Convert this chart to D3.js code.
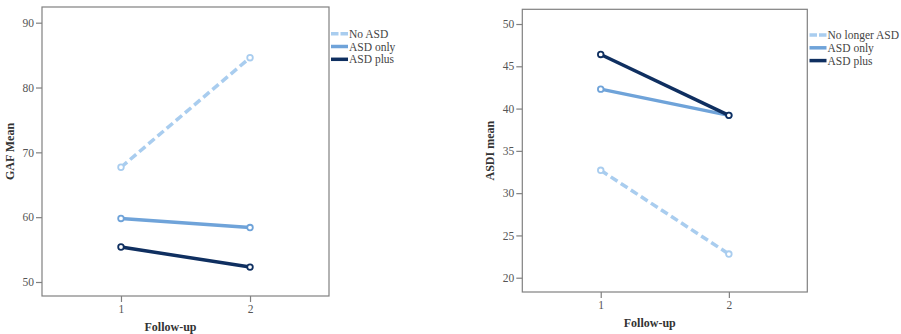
<!DOCTYPE html>
<html>
<head>
<meta charset="utf-8">
<script src="https://cdn.jsdelivr.net/npm/d3@7"></script>
<style>
  html, body { margin: 0; padding: 0; background: #fff; }
  svg { display: block; }
</style>
</head>
<body>
<svg id="chart" width="901" height="334" font-family="'Liberation Serif', 'Times New Roman', Times, serif"></svg>
<script>
// Follow-up time points
const followUps = [1, 2];

// Left panel: GAF mean by group
const gafTicks = [50, 60, 70, 80, 90];
const gafNoASD = [67.7, 84.6];
const gafASDOnly = [59.8, 58.4];
const gafASDPlus = [55.4, 52.3];
const gafLabels = ["No ASD", "ASD only", "ASD plus"];

// Right panel: ASDI mean by group
const asdiTicks = [20, 25, 30, 35, 40, 45, 50];
const asdiNoLonger = [32.7, 22.8];
const asdiASDOnly = [42.3, 39.2];
const asdiASDPlus = [46.4, 39.2];
const asdiLabels = ["No longer ASD", "ASD only", "ASD plus"];

const colors = ["#a9cdef", "#6fa3d9", "#0f2f60"];
const dashes = ["8,4", null, null];
const FONT = "'Liberation Serif', 'Times New Roman', Times, serif";

const svg = d3.select("#chart");

function panel(cfg) {
  const g = svg.append("g").attr("font-family", FONT);
  const x = d3.scaleLinear()
    .domain([1 - 0.612, 2 + 0.612])
    .range([cfg.left, cfg.right]);
  const y = d3.scaleLinear()
    .domain(cfg.yDomain)
    .range([cfg.bottom, cfg.top]);

  // plot frame
  g.append("rect")
    .attr("x", cfg.left).attr("y", cfg.top)
    .attr("width", cfg.right - cfg.left)
    .attr("height", cfg.bottom - cfg.top)
    .attr("fill", "none")
    .attr("stroke", "#808080")
    .attr("stroke-width", 1.2);

  // y axis
  const ya = g.append("g")
    .attr("transform", `translate(${cfg.left},0)`)
    .call(d3.axisLeft(y).tickValues(cfg.ticks).tickSize(6).tickPadding(2));
  ya.attr("font-family", FONT).attr("font-size", 11.5);
  ya.select(".domain").remove();
  ya.selectAll("line").attr("stroke", "#808080").attr("stroke-width", 1.2);
  ya.selectAll("text").attr("fill", "#555");

  // x axis
  const xa = g.append("g")
    .attr("transform", `translate(0,${cfg.bottom})`)
    .call(d3.axisBottom(x).tickValues(followUps).tickFormat(d3.format("d")).tickSize(6).tickPadding(3));
  xa.attr("font-family", FONT).attr("font-size", 11.5);
  xa.select(".domain").remove();
  xa.selectAll("line").attr("stroke", "#808080").attr("stroke-width", 1.2);
  xa.selectAll("text").attr("fill", "#555");

  // axis titles
  g.append("text")
    .attr("x", (cfg.left + cfg.right) / 2 - 15)
    .attr("y", cfg.xTitleY)
    .attr("text-anchor", "middle")
    .attr("font-weight", "bold")
    .attr("font-size", 12)
    .attr("fill", "#333")
    .text("Follow-up");
  g.append("text")
    .attr("transform", `translate(${cfg.yTitleX},${(cfg.top + cfg.bottom) / 2}) rotate(-90)`)
    .attr("text-anchor", "middle")
    .attr("font-weight", "bold")
    .attr("font-size", 12)
    .attr("fill", "#333")
    .text(cfg.yTitle);

  const line = d3.line().x((d, i) => x(followUps[i])).y(d => y(d));

  cfg.series.forEach((vals, k) => {
    g.append("path")
      .datum(vals)
      .attr("d", line)
      .attr("fill", "none")
      .attr("stroke", colors[k])
      .attr("stroke-width", 3.5)
      .attr("stroke-dasharray", dashes[k]);
    g.selectAll(null)
      .data(vals)
      .join("circle")
      .attr("cx", (d, i) => x(followUps[i]))
      .attr("cy", d => y(d))
      .attr("r", 2.8)
      .attr("fill", "#fff")
      .attr("stroke", colors[k])
      .attr("stroke-width", 1.8);
  });

  // legend
  const lg = g.append("g");
  cfg.labels.forEach((lab, k) => {
    const ly = cfg.legendY + k * 12.8;
    lg.append("line")
      .attr("x1", cfg.legendX).attr("x2", cfg.legendX + 17)
      .attr("y1", ly).attr("y2", ly)
      .attr("stroke", colors[k])
      .attr("stroke-width", 3.5)
      .attr("stroke-dasharray", k === 0 ? "7.5,2" : null);
    lg.append("text")
      .attr("x", cfg.legendX + 18)
      .attr("y", ly)
      .attr("dy", "0.35em")
      .attr("font-size", 11.5)
      .attr("fill", "#444")
      .text(lab);
  });
}

panel({
  left: 42, right: 329, top: 7, bottom: 296,
  yDomain: [47.84, 92.42],
  ticks: gafTicks,
  series: [gafNoASD, gafASDOnly, gafASDPlus],
  labels: gafLabels,
  yTitle: "GAF Mean",
  yTitleX: 14,
  xTitleY: 331,
  legendX: 331, legendY: 33.7
});

panel({
  left: 522.3, right: 807.3, top: 9.3, bottom: 292,
  yDomain: [18.31, 51.74],
  ticks: asdiTicks,
  series: [asdiNoLonger, asdiASDOnly, asdiASDPlus],
  labels: asdiLabels,
  yTitle: "ASDI mean",
  yTitleX: 494,
  xTitleY: 327,
  legendX: 809.5, legendY: 35
});
</script>
</body>
</html>
